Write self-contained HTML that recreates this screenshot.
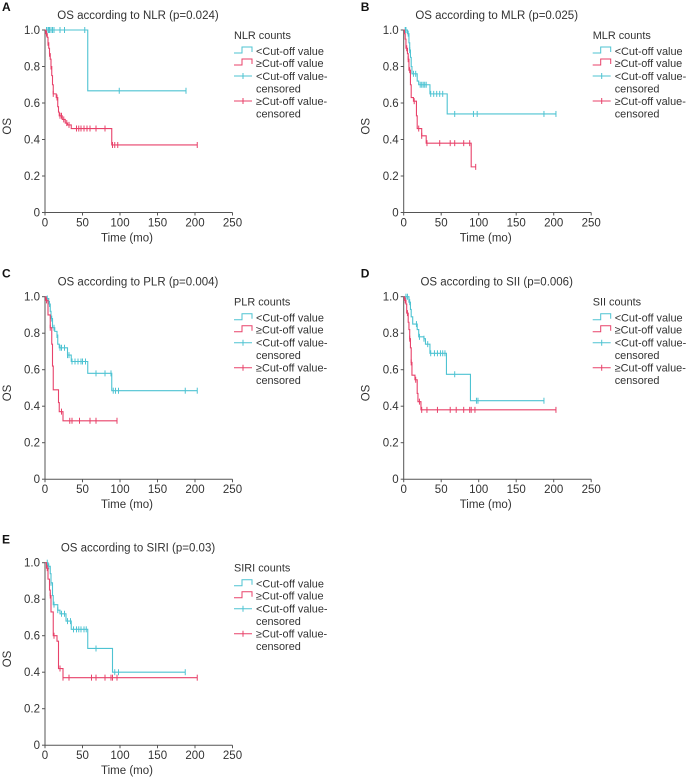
<!DOCTYPE html>
<html><head><meta charset="utf-8"><style>
html,body{margin:0;padding:0;background:#fff;}
svg{display:block;font-family:"Liberation Sans",Arial,sans-serif;}
</style></head><body>
<svg id="fig" width="690" height="783" viewBox="0 0 690 783"></svg>
<script>
// ---- data ----
const panelLetters = ["A","B","C","D","E"];
const panelTitles = ["OS according to NLR (p=0.024)","OS according to MLR (p=0.025)","OS according to PLR (p=0.004)","OS according to SII (p=0.006)","OS according to SIRI (p=0.03)"];
const legendTitles = ["NLR counts","MLR counts","PLR counts","SII counts","SIRI counts"];
const xTicks = [0,50,100,150,200,250];
const yTicks = [0,0.2,0.4,0.6,0.8,1.0];
const yTickLabels = ["0","0.2","0.4","0.6","0.8","1.0"];
const legendLabels = ["<Cut-off value","\u2265Cut-off value","<Cut-off value-","\u2265Cut-off value-"];
// event times and survival after each drop
const lowTimesA = [57];
const lowSurvA = [0.667];
const lowCensA = [2,4,5,6,8,10,12,20,26,53,99,188];
const highTimesA = [1,3,4,5,6,7,8,9,10,11,15,17,18,19,23,27,30,35,89];
const highSurvA = [0.98,0.96,0.93,0.90,0.87,0.84,0.80,0.75,0.70,0.65,0.63,0.58,0.55,0.53,0.51,0.49,0.48,0.46,0.37];
const highCensA = [2,4,6,8,11,16,20,22,25,29,32,42,45,48,52,56,60,68,80,90,93,97,203];
const lowTimesB = [5,7,8,9,10,11,18,20,35,58];
const lowSurvB = [0.98,0.93,0.89,0.85,0.80,0.76,0.72,0.70,0.65,0.54];
const lowCensB = [2,3,6,8,13,16,22,24,26,28,30,36,40,44,48,52,68,93,98,187,203];
const highTimesB = [1,2,3,5,6,7,9,10,13,17,18,24,30,90];
const highSurvB = [0.98,0.95,0.90,0.87,0.84,0.78,0.70,0.63,0.61,0.53,0.46,0.42,0.38,0.25];
const highCensB = [4,6,8,14,20,24,31,48,62,68,80,88,96];
const lowTimesC = [2,5,7,8,10,13,16,17,19,30,35,57,89];
const lowSurvC = [0.99,0.96,0.92,0.88,0.83,0.81,0.79,0.74,0.72,0.68,0.645,0.58,0.485];
const lowCensC = [3,6,9,12,16,20,22,26,30,32,36,40,44,48,50,54,68,80,88,91,94,98,187,203];
const highTimesC = [1,4,7,9,10,11,18,19,24];
const highSurvC = [0.98,0.90,0.83,0.74,0.62,0.49,0.42,0.37,0.32];
const highCensC = [2,7,22,33,36,46,60,68,96];
const lowTimesD = [7,9,10,12,18,20,27,29,35,57,89];
const lowSurvD = [0.97,0.93,0.89,0.85,0.82,0.78,0.77,0.74,0.69,0.575,0.43];
const lowCensD = [3,5,8,17,21,27,32,36,41,45,49,52,55,68,97,99,187];
const highTimesD = [1,3,4,6,7,8,9,10,11,15,18,19,23];
const highSurvD = [0.98,0.96,0.91,0.86,0.82,0.77,0.72,0.64,0.57,0.545,0.47,0.425,0.38];
const highCensD = [2,5,8,10,16,21,24,31,45,62,70,80,88,90,95,203];
const lowTimesE = [4,7,8,10,11,17,20,28,35,57,90];
const lowSurvE = [0.98,0.94,0.89,0.82,0.77,0.74,0.72,0.68,0.635,0.53,0.40];
const lowCensE = [3,5,8,12,17,22,26,30,34,38,42,45,48,52,55,68,93,98,187];
const highTimesE = [2,4,6,7,8,11,16,18,24];
const highSurvE = [0.97,0.91,0.85,0.82,0.73,0.60,0.57,0.42,0.37];
const highCensE = [3,7,12,20,24,32,62,68,80,88,90,96,203];

const lowT=[lowTimesA,lowTimesB,lowTimesC,lowTimesD,lowTimesE];
const lowS=[lowSurvA,lowSurvB,lowSurvC,lowSurvD,lowSurvE];
const lowC=[lowCensA,lowCensB,lowCensC,lowCensD,lowCensE];
const highT=[highTimesA,highTimesB,highTimesC,highTimesD,highTimesE];
const highS=[highSurvA,highSurvB,highSurvC,highSurvD,highSurvE];
const highC=[highCensA,highCensB,highCensC,highCensD,highCensE];

const CYAN="#4ec3d2", RED="#e8426a", INK="#333";
const origins=[[45,30],[403.7,30],[45,296.7],[403.7,296.7],[45,562.7]];
const PW=187.5, PH=182.5;
const NS="http://www.w3.org/2000/svg";
const svg=document.getElementById('fig');
function mk(tag,attrs,parent){const e=document.createElementNS(NS,tag);for(const k in attrs)e.setAttribute(k,attrs[k]);(parent||svg).appendChild(e);return e;}
function txt(s,attrs,parent){const e=mk('text',attrs,parent);e.textContent=s;return e;}

function survAt(times,surv,t){let s=1;for(let i=0;i<times.length;i++){if(times[i]<=t)s=surv[i];}return s;}

for(let p=0;p<5;p++){
  const [ox,oy]=origins[p];
  const g=mk('g',{});
  
  
  const X=t=>ox+t/250*PW, Y=v=>oy+PH-v*PH;
  const L=txt(panelLetters[p],{x:ox-45+2,y:oy-19,'font-size':12,'font-weight':'bold',fill:'#111'},g);
  
  const T=txt(panelTitles[p],{x:ox+93,y:oy-11,'font-size':11.5,'text-anchor':'middle',fill:INK},g);
  
  const ax=mk('path',{d:`M${ox},${oy} V${oy+PH} H${ox+PW}`,stroke:'#555','stroke-width':1,fill:'none'},g);
  
  xTicks.forEach(t=>{
    mk('line',{x1:X(t),x2:X(t),y1:oy+PH,y2:oy+PH+3,stroke:'#555'},g);
    const l=txt(String(t),{x:X(t),y:oy+PH+14,'font-size':11.5,'text-anchor':'middle',fill:INK},g);
    
  });
  yTicks.forEach((v,i)=>{
    mk('line',{x1:ox-3,x2:ox,y1:Y(v),y2:Y(v),stroke:'#555'},g);
    const l=txt(yTickLabels[i],{x:ox-5,y:Y(v)+4,'font-size':11.5,'text-anchor':'end',fill:INK},g);
    
  });
  const xt=txt('Time (mo)',{x:ox+82,y:oy+PH+29,'font-size':11.5,'text-anchor':'middle',fill:INK},g);
  
  const yt=txt('OS',{x:0,y:0,'font-size':11.5,'text-anchor':'middle',fill:INK,transform:`translate(${ox-34},${oy+PH/2+5}) rotate(-90)`},g);
  
  const series=[[lowT[p],lowS[p],lowC[p],CYAN,'low'],[highT[p],highS[p],highC[p],RED,'high']];
  series.forEach(([tt,ss,cc,col,nm])=>{
    const end=Math.max(cc[cc.length-1],tt[tt.length-1]);
    let d=`M${X(0)},${Y(1)}`;
    for(let i=0;i<tt.length;i++){d+=` H${X(tt[i])} V${Y(ss[i])}`;}
    d+=` H${X(end)}`;
    const path=mk('path',{d:d,stroke:col,'stroke-width':1.1,fill:'none'},g);
    
    
    cc.forEach(c=>{
      const y=Y(survAt(tt,ss,c));
      const m=mk('line',{x1:X(c),x2:X(c),y1:y-3,y2:y+3,stroke:col,'stroke-width':1},g);
      
      
    });
  });
  // legend
  const lx=ox+189, ly=oy, FS=10.9, TX=22;
  const lg=mk('g',{},g);
  
  txt(legendTitles[p],{x:lx,y:ly+9,'font-size':FS,fill:INK},lg);
  const rows=[[ly+21,CYAN,0],[ly+33,RED,1]];
  rows.forEach(([y,col,i])=>{
    const e=mk('path',{d:`M${lx},${y+2} H${lx+8} V${y-4} H${lx+18} V${y+1}`,stroke:col,fill:'none','stroke-width':1},lg);
    
    txt(legendLabels[i],{x:lx+TX,y:y+4,'font-size':FS,fill:INK},lg);
  });
  [[ly+46,CYAN,2],[ly+71,RED,3]].forEach(([y,col,i])=>{
    const e=mk('path',{d:`M${lx},${y} H${lx+18} M${lx+9},${y-3} V${y+3}`,stroke:col,fill:'none','stroke-width':1},lg);
    
    txt(legendLabels[i],{x:lx+TX,y:y+4,'font-size':FS,fill:INK},lg);
    txt('censored',{x:lx+TX,y:y+16.5,'font-size':FS,fill:INK},lg);
  });
}
</script>
</body></html>
